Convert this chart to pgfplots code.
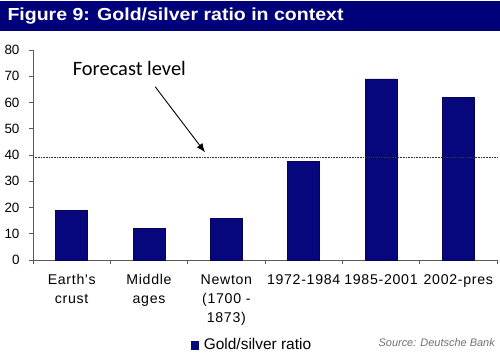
\documentclass[border=0pt]{standalone}
\usepackage{pgfplots}
\pgfplotsset{compat=1.18}
\usetikzlibrary{arrows.meta}
\usepackage{fontspec}
\setmainfont{Liberation Sans}
\newfontfamily\calibri{Carlito}
\newfontfamily\titlefont[FakeStretch=1.12]{Liberation Sans Bold}
\newfontfamily\tickfont[LetterSpace=5]{Liberation Sans}
\definecolor{navy}{RGB}{6,6,125}
\definecolor{titlebar}{RGB}{0,0,122}
\begin{document}
\begin{tikzpicture}[x=1bp,y=1bp]
\path[fill=white] (0,0) rectangle (500,355);
\fill[titlebar] (0,324) rectangle (500,354);
\node[anchor=west,text=white,font=\titlefont\fontsize{17.5}{20}\selectfont] at (4,339) {Figure 9: Gold/silver ratio in context};
\begin{axis}[
  at={(33bp,95bp)}, anchor=south west,
  scale only axis, width=464bp, height=210bp,
  xmin=-0.5, xmax=5.5, ymin=0, ymax=80,
  axis x line*=bottom, axis y line*=left,
  axis line style={gray!70!black, line width=0.6pt},
  every outer x axis line/.append style={-}, every outer y axis line/.append style={-},
  ytick={0,10,...,80},
  xtick={0,...,5},
  xticklabels={{Earth's\\crust},{Middle\\ages},{Newton\\(1700 -\\1873)},{1972-1984},{1985-2001},{2002-pres}},
  major x tick style={draw=none},
  minor xtick={-0.5,0.5,...,5.5},
  minor tick length=4bp, major tick length=4bp,
  tick align=outside,
  tick style={gray!70!black, line width=0.6pt},
  yticklabel style={font=\fontsize{13.5}{16}\selectfont, xshift=-6bp},
  xticklabel style={font=\tickfont\fontsize{14.2}{19}\selectfont, align=center, anchor=north, yshift=-7bp},
  /pgf/number format/assume math mode=true,
  ybar, bar width=32bp,
  legend style={at={(0.472,-0.405)}, anchor=center, draw=none, font=\fontsize{15.5}{17}\selectfont, inner sep=1pt},
  legend image code/.code={\fill[navy, draw=none] (0bp,-4.5bp) rectangle (8.5bp,4bp); \path[draw=none, fill=none] (0bp,0bp) -- (11bp,0bp);},
  clip=false,
]
\addplot[fill=navy, draw=navy!70!black] coordinates {(0,19) (1,12) (2,16) (3,37.5) (4,69) (5,62)};
\addlegendentry{Gold/silver ratio}
\draw[densely dotted, black!80, line width=0.6pt] (axis cs:-0.5,39) -- (axis cs:5.5,39);
\node[font=\calibri\fontsize{20.5}{22}\selectfont, anchor=west] at (axis cs:-0.03,73.1) {Forecast level};
\draw[-{Latex[length=9bp,width=7bp]}, line width=0.9pt] (axis cs:1.08,66) -- (axis cs:1.725,41);
\node[font=\fontsize{11}{13}\selectfont\itshape, text=gray!90!black] at (rel axis cs:0.87,-0.395) {Source: Deutsche Bank};
\end{axis}
\end{tikzpicture}
\end{document}
